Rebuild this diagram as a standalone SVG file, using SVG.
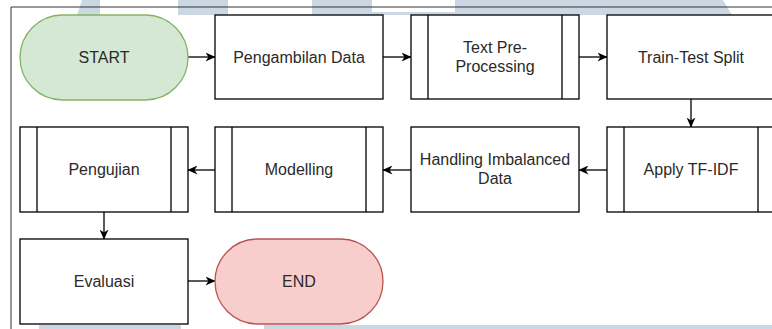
<svg xmlns="http://www.w3.org/2000/svg" width="772" height="329" viewBox="0 0 772 329">
  <style>
    .wm { fill: #cbd8e4; }
    .box { fill: #ffffff; stroke: #000000; stroke-width: 1.3; }
    .bar { fill: none; stroke: #000000; stroke-width: 1.3; }
    .start { fill: #d5e8d4; stroke: #82b366; stroke-width: 1.3; }
    .end { fill: #f8cecc; stroke: #b85450; stroke-width: 1.3; }
    .lbl { font-family: "Liberation Sans", Arial, sans-serif; font-size: 16px; fill: #2a2a2a; text-anchor: middle; }
    .edge { fill: none; stroke: #000000; stroke-width: 1.3; marker-end: url(#arr); }
  </style>
  <defs>
    <marker id="arr" viewBox="0 0 10 9" refX="9.5" refY="4.5" markerWidth="10" markerHeight="9" markerUnits="userSpaceOnUse" orient="auto">
      <path d="M0,0 L10,4.5 L0,9 L3,4.5 z" fill="#000000"/>
    </marker>
  </defs>
  <rect width="772" height="329" fill="#ffffff"/>
  <g id="watermark">
    <polygon class="wm" points="82,0 100,0 100,15 77,15"/>
    <rect class="wm" x="178" y="0" width="50" height="15"/>
    <rect class="wm" x="312" y="0" width="60" height="15"/>
    <rect class="wm" x="372" y="12" width="83" height="3"/>
    <polygon class="wm" points="455,0 723,0 732,15 455,15"/>
    <rect class="wm" x="39" y="325" width="142" height="4"/>
    <rect class="wm" x="264" y="325" width="508" height="4"/>
  </g>
  <g id="frame">
    <path d="M11,329 V7 H772" fill="none" stroke="#333333" stroke-width="1"/>
  </g>
  <g id="connectors">
    <path class="edge" d="M188,57 H215"/>
    <path class="edge" d="M383,57 H411"/>
    <path class="edge" d="M579,57 H607"/>
    <path class="edge" d="M691,99 V127"/>
    <path class="edge" d="M607,170 H579"/>
    <path class="edge" d="M411,170 H383"/>
    <path class="edge" d="M215,170 H188"/>
    <path class="edge" d="M104,212 V239"/>
    <path class="edge" d="M188,281 H215"/>
  </g>
  <g id="start">
    <rect class="start" x="20" y="15" width="168" height="85" rx="42.5" ry="42.5"/>
    <text class="lbl" x="104" y="63">START</text>
  </g>
  <g id="pengambilan">
    <rect class="box" x="215" y="15" width="168" height="84"/>
    <text class="lbl" x="299" y="63">Pengambilan Data</text>
  </g>
  <g id="preprocessing">
    <rect class="box" x="411" y="15" width="168" height="84"/>
    <path class="bar" d="M428,15 V99 M562,15 V99"/>
    <text class="lbl" x="495" y="53">Text Pre-</text>
    <text class="lbl" x="495" y="72">Processing</text>
  </g>
  <g id="split">
    <rect class="box" x="607" y="15" width="168" height="84"/>
    <text class="lbl" x="691" y="63">Train-Test Split</text>
  </g>
  <g id="tfidf">
    <rect class="box" x="607" y="127" width="168" height="85"/>
    <path class="bar" d="M624,127 V212 M758,127 V212"/>
    <text class="lbl" x="691" y="175">Apply TF-IDF</text>
  </g>
  <g id="imbalanced">
    <rect class="box" x="411" y="127" width="168" height="85"/>
    <text class="lbl" x="495" y="165">Handling Imbalanced</text>
    <text class="lbl" x="495" y="184">Data</text>
  </g>
  <g id="modelling">
    <rect class="box" x="215" y="127" width="168" height="85"/>
    <path class="bar" d="M232,127 V212 M366,127 V212"/>
    <text class="lbl" x="299" y="175">Modelling</text>
  </g>
  <g id="pengujian">
    <rect class="box" x="20" y="127" width="168" height="85"/>
    <path class="bar" d="M37,127 V212 M171,127 V212"/>
    <text class="lbl" x="104" y="175">Pengujian</text>
  </g>
  <g id="evaluasi">
    <rect class="box" x="20" y="239" width="168" height="85"/>
    <text class="lbl" x="104" y="287">Evaluasi</text>
  </g>
  <g id="end">
    <rect class="end" x="215" y="239" width="168" height="85" rx="42.5" ry="42.5"/>
    <text class="lbl" x="299" y="287">END</text>
  </g>
</svg>
